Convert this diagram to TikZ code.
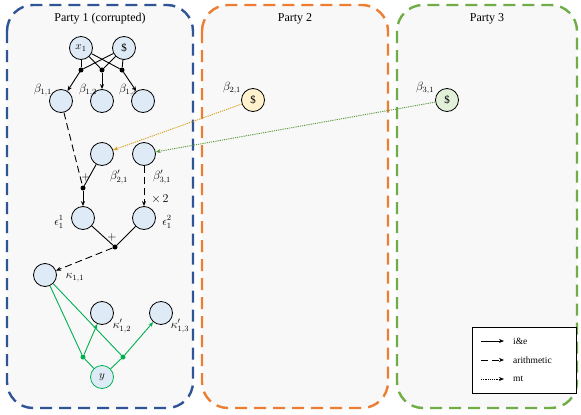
\documentclass[tikz,border=0pt]{standalone}
\usepackage{fontspec}
\setmainfont{Liberation Serif}
\usetikzlibrary{arrows.meta}
\definecolor{pblue}{HTML}{2F5597}
\definecolor{porange}{HTML}{ED7D31}
\definecolor{pgreen}{HTML}{70AD47}
\definecolor{nfill}{HTML}{DEEBF7}
\definecolor{yfill}{HTML}{FFF2CC}
\definecolor{gfill}{HTML}{E2F0D9}
\definecolor{cgreen}{HTML}{00B050}
\definecolor{cgold}{HTML}{D4A017}
\definecolor{cdgreen}{HTML}{5B9A3A}
\definecolor{boxfill}{HTML}{F8F8F8}
\tikzset{
  party/.style={draw=#1, line width=2.4pt, dash pattern=on 12pt off 7pt, rounded corners=26pt, fill=boxfill},
  circ/.style={circle, draw=black, line width=0.8pt, fill=nfill, minimum size=23pt, inner sep=0pt, font=\fontsize{11pt}{13pt}\selectfont},
  dot/.style={circle, fill=#1, inner sep=0pt, minimum size=5pt},
  dot/.default=black,
  tip/.style={-{Stealth[length=5pt,width=4pt]}},
  ie/.style={line width=0.9pt},
  ar/.style={line width=0.9pt, dash pattern=on 7pt off 4pt},
  mtl/.style={line width=0.9pt, dash pattern=on 1.2pt off 1pt},
  lbl/.style={font=\fontsize{12pt}{14pt}\selectfont, inner sep=1pt},
  title/.style={font=\fontsize{12pt}{14pt}\selectfont},
  legt/.style={anchor=west, font=\fontsize{9.5pt}{11pt}\selectfont, inner sep=0pt}
}
\begin{document}
\begin{tikzpicture}[x=1pt,y=-1pt]
\useasboundingbox[fill=white] (0,0) rectangle (581,415);
% party boxes
\draw[party=pblue] (7,5) rectangle (193,408);
\draw[party=porange] (202,5) rectangle (388,408);
\draw[party=pgreen] (397,5) rectangle (577,408);
\node[title] (t1) at (100,19) {Party 1 (corrupted)};
\node[title] (t2) at (295,19) {Party 2};
\node[title] (t3) at (487,19) {Party 3};

% nodes party 1
\node[circ] (x1) at (81,48) {$x_1$};
\node[circ] (r1) at (124,48) {\$};
\node[circ] (b11) at (61,101) {};
\node[circ] (b12) at (102,101) {};
\node[circ] (b13) at (143,101) {};
\node[lbl] at (43,90) {$\beta_{1,1}$};
\node[lbl] at (88,90) {$\beta_{1,2}$};
\node[lbl] at (128,90) {$\beta_{1,3}$};
\node[dot] (d1) at (81,70) {};
\node[dot] (d2) at (102,70) {};
\node[dot] (d3) at (122,70) {};
\foreach \s in {x1,r1}{\foreach \d in {d1,d2,d3}{\draw[ie] (\s) -- (\d);}}
\draw[ie,tip] (d1) -- (b11);
\draw[ie,tip] (d2) -- (b12);
\draw[ie,tip] (d3) -- (b13);

\node[circ] (p21) at (102,154) {};
\node[circ] (p31) at (144,154) {};
\node[lbl] at (119,177) {$\beta'_{2,1}$};
\node[lbl] at (162,177) {$\beta'_{3,1}$};
\node[dot] (s1) at (83,188) {};
\node[lbl] (plus1) at (86,177) {$+$};
\draw[ar] (b11) -- (s1);
\draw[ie] (p21) -- (s1);
\node[circ] (e1) at (83,218) {};
\node[circ] (e2) at (144,218) {};
\node[lbl] at (59,222) {$\epsilon_1^1$};
\node[lbl] at (167,222) {$\epsilon_1^2$};
\draw[ie,tip] (s1) -- (e1);
\draw[ar,tip] (p31) -- (e2);
\node[lbl] (x2) at (160,199) {$\times\,2$};
\node[dot] (s2) at (115,247) {};
\node[lbl] (plus2) at (112,237) {$+$};
\draw[ie] (e1) -- (s2);
\draw[ie] (e2) -- (s2);
\node[circ] (k11) at (45,275) {};
\node[lbl] at (75,278) {$\kappa_{1,1}$};
\draw[ar,tip] (s2) -- (k11);

\node[circ] (k12) at (102,313) {};
\node[circ] (k13) at (161,313) {};
\node[lbl] at (122,326) {$\kappa'_{1,2}$};
\node[lbl] at (180,326) {$\kappa'_{1,3}$};
\node[circ, draw=cgreen] (y) at (102,377) {$y$};
\node[dot=cgreen] (g1) at (83,357) {};
\node[dot=cgreen] (g2) at (123,357) {};
\draw[ie,cgreen] (k11) -- (g1);
\draw[ie,cgreen] (k11) -- (g2);
\draw[ie,cgreen] (y) -- (g1);
\draw[ie,cgreen] (y) -- (g2);
\draw[ie,cgreen,tip] (g1) -- (k12);
\draw[ie,cgreen,tip] (g2) -- (k13);

% party 2 and 3
\node[circ, fill=yfill] (b21) at (253,100) {\$};
\node[lbl] at (232,88) {$\beta_{2,1}$};
\node[circ, fill=gfill] (b31) at (447,100) {\$};
\node[lbl] at (425,88) {$\beta_{3,1}$};
\draw[mtl,cgold,tip] (b21) -- (p21);
\draw[mtl,cdgreen,tip] (b31) -- (p31);

% legend
\node[draw=black, line width=0.8pt, fill=white, minimum width=104pt, minimum height=66pt, inner sep=0pt] (leg) at (524,360) {};
\coordinate (la1) at (481,341); \coordinate (lb1) at (504,341);
\coordinate (la2) at (481,360); \coordinate (lb2) at (504,360);
\coordinate (la3) at (481,379); \coordinate (lb3) at (504,379);
\draw[ie,tip] (la1) -- (lb1);
\draw[ar,tip] (la2) -- (lb2);
\draw[mtl,tip] (la3) -- (lb3);
\node[legt] (l1) at (513,341) {i\&e};
\node[legt] (l2) at (513,360) {arithmetic};
\node[legt] (l3) at (513,379) {mt};
\end{tikzpicture}
\end{document}
